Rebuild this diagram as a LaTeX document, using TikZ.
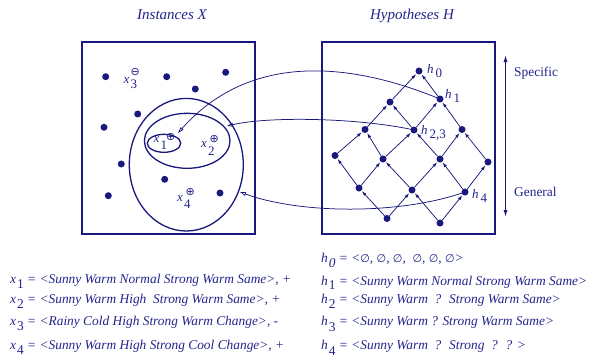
\documentclass[tikz,border=0pt]{standalone}
\usepackage{fontspec}
\setmainfont{Liberation Serif}
\newfontfamily\symf{DejaVu Sans}
\usetikzlibrary{arrows.meta}
\definecolor{navy}{RGB}{25,25,125}
\definecolor{ink}{RGB}{35,35,140}
\newcommand\instlab[5]{\textit{x}\hspace{1.2pt}\rlap{\raisebox{#4}{#1}}\hspace{#5}\raisebox{#3}{\symf\fontsize{11}{11}\selectfont #2}}
\newcommand\hlab[1]{\textit{h}\hspace{2pt}\raisebox{-4pt}{#1}}
\newcommand\es{{\symf\fontsize{11}{11}\selectfont\itshape ∅}}
\begin{document}
\begin{tikzpicture}[x=1pt,y=-1pt,
  box/.style={draw=navy,line width=1.4pt},
  ell/.style={draw=navy,line width=1.3pt},
  dot/.style={circle,fill=navy,inner sep=0pt,minimum size=7pt},
  latt/.style={draw=navy,line width=0.75pt,-{Latex[length=5pt,width=3.2pt]},shorten >=0.5pt},
  link/.style={draw=navy,line width=0.75pt,-{Triangle[open,length=6pt,width=3.6pt]}},
  txt/.style={text=ink,inner sep=0pt,font=\fontsize{13.4}{15}\selectfont},
  lab/.style={text=ink,inner sep=0pt,anchor=base west,font=\fontsize{13}{14}\selectfont}]
\useasboundingbox (0,0) rectangle (592,362);
% titles
\node[txt,anchor=base,font=\fontsize{15}{17}\selectfont\itshape] (tX) at (172,19) {Instances X};
\node[txt,anchor=base,font=\fontsize{15}{17}\selectfont\itshape] (tH) at (412,19) {Hypotheses H};
% boxes
\draw[box] (82,42) rectangle (255,234);
\draw[box] (322,42) rectangle (495,234);
% instance dots
\foreach \p [count=\i] in {(105.7,76.7),(166.7,76.7),(225.7,72.3),(195.3,89),(137.7,114),(104,127.3),(121.3,164),(164.7,179.3),(108.3,195.7),(220,193)}
  \node[dot] (p\i) at \p {};
% ellipses
\draw[ell] (186.3,164.7) ellipse [x radius=57pt, y radius=66.3pt];
\draw[ell] (187.2,140.8) ellipse [x radius=42.8pt, y radius=27.5pt];
\draw[ell] (164,143.3) ellipse [x radius=16.7pt, y radius=9pt];
% instance labels
\node[lab] (x1) at (153.5,142) {\instlab{1}{⊕}{1.5pt}{-7pt}{5.5pt}};
\node[lab] (x2) at (201,147) {\instlab{2}{⊕}{4.5pt}{-8pt}{1.5pt}};
\node[lab] (x3) at (123.5,83) {\instlab{3}{⊖}{8pt}{-5pt}{0pt}};
\node[lab] (x4) at (177,201) {\instlab{4}{⊕}{6pt}{-7pt}{1.5pt}};
% lattice
\node[dot] (h0) at (419,71) {};
\node[dot] (b1) at (390,102) {};
\node[dot] (h1) at (440,99) {};
\node[dot] (c1) at (365,129.5) {};
\node[dot] (h23) at (414,130) {};
\node[dot] (c3) at (462,129.5) {};
\node[dot] (d1) at (335,155.5) {};
\node[dot] (d2) at (383,159) {};
\node[dot] (d3) at (440,159) {};
\node[dot] (d4) at (488,162) {};
\node[dot] (e1) at (359,188) {};
\node[dot] (e2) at (412,190) {};
\node[dot] (h4) at (465,192) {};
\node[dot] (f1) at (387,218.5) {};
\node[dot] (f2) at (440,223) {};
\foreach \a/\b in {b1/h0,h1/h0,c1/b1,h23/b1,h23/h1,c3/h1,d1/c1,d2/c1,d2/h23,d3/h23,d3/c3,d4/c3,e1/d1,e1/d2,e2/d2,e2/d3,h4/d3,h4/d4,f1/e1,f1/e2,f2/e2,f2/h4}
  \draw[latt] (\a) -- (\b);
% lattice labels
\node[lab] (l0) at (427,73) {\hlab{0}};
\node[lab] (l1) at (445,98) {\hlab{1}};
\node[lab] (l23) at (421,134) {\hlab{2,3}};
\node[lab] (l4) at (472,198) {\hlab{4}};
% links
\coordinate (tA) at (178,133);
\coordinate (tB) at (227,126);
\coordinate (tC) at (240,192);
\draw[link] (h1.center) .. controls (350,62) and (250,52) .. (tA);
\draw[link] (h23.center) .. controls (360,118) and (270,116) .. (tB);
\draw[link] (h4.center) .. controls (400,215) and (300,214) .. (tC);
% specific / general
\coordinate (sg1) at (505.5,55);
\coordinate (sg2) at (505.5,217);
\draw[draw=navy,line width=1.2pt,{Latex[length=7pt,width=4pt]}-{Latex[length=7pt,width=4pt]}] (sg1) -- (sg2);
\node[txt,anchor=base west] (spec) at (514,76) {Specific};
\node[txt,anchor=base west] (gen) at (514,196) {General};
% lists
\node[txt,anchor=base west] (L1) at (10,283) {\itshape x\hspace{1pt}\raisebox{-5pt}{\upshape 1} = <Sunny Warm Normal Strong Warm Same>, +};
\node[txt,anchor=base west] (L2) at (10,303) {\itshape x\hspace{1pt}\raisebox{-5pt}{\upshape 2} = <Sunny Warm High \ Strong Warm Same>, +};
\node[txt,anchor=base west] (L3) at (10,325) {\itshape x\hspace{1pt}\raisebox{-5pt}{\upshape 3} = <Rainy Cold High Strong Warm Change>, -};
\node[txt,anchor=base west] (L4) at (10,349) {\itshape x\hspace{1pt}\raisebox{-5pt}{\upshape 4} = <Sunny Warm High Strong Cool Change>, +};
\node[txt,anchor=base west] (H0) at (321,262) {\itshape h\hspace{1pt}\raisebox{-5pt}{0} = <\es, \es, \es, \ \es, \es, \es>};
\node[txt,anchor=base west] (H1) at (321,285) {\itshape h\hspace{1pt}\raisebox{-4pt}{\upshape 1} = <Sunny Warm Normal Strong Warm Same>};
\node[txt,anchor=base west] (H2) at (321,303) {\itshape h\hspace{1pt}\raisebox{-5pt}{\upshape 2} = <Sunny Warm \ ? \ Strong Warm Same>};
\node[txt,anchor=base west] (H3) at (321,325) {\itshape h\hspace{1pt}\raisebox{-6pt}{\upshape 3} = <Sunny Warm ? Strong Warm Same>};
\node[txt,anchor=base west] (H4) at (321,349) {\itshape h\hspace{1pt}\raisebox{-6pt}{\upshape 4} = <Sunny Warm \ ? \ Strong \ ? \ ? >};
\end{tikzpicture}
\end{document}
